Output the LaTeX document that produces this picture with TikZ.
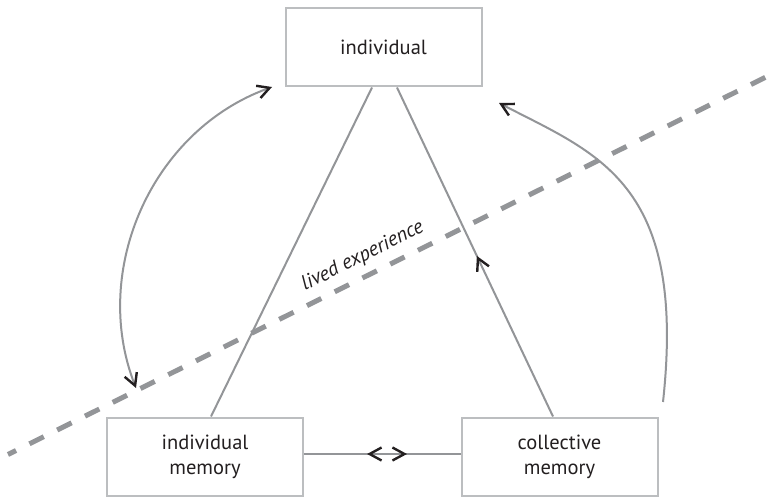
\documentclass[tikz,border=0pt]{standalone}
\usepackage{fontspec}
\setmainfont{PT Sans}
\usetikzlibrary{arrows.meta,decorations.markings}
\definecolor{boxc}{HTML}{BCBEC0}
\definecolor{linec}{HTML}{939598}
\definecolor{dashc}{HTML}{939598}
\definecolor{tipc}{HTML}{231F20}
\begin{document}
\begin{tikzpicture}[x=1pt,y=-1pt,
  >={Straight Barb[length=12pt,width=13pt,line width=2.4pt,color=tipc]},
  box/.style={draw=boxc, line width=2pt, minimum width=196pt, minimum height=78pt,
    inner sep=0pt, align=center, text=tipc, font=\fontsize{20.5}{25}\selectfont},
  conn/.style={draw=linec, line width=2pt},
  dashline/.style={draw=dashc, line width=5pt, dash pattern=on 16pt off 15pt, dash phase=7pt},
  lbl/.style={text=tipc, font=\itshape\fontsize{20.5}{25}\selectfont}
]
\useasboundingbox (0,0) rectangle (769,497);
\fill[white] (0,0) rectangle (769,497);

% dashed boundary
\coordinate (d1) at (8,454.5);
\coordinate (d2) at (772,74);
\draw[dashline] (d1) -- (d2);

% boxes
\node[box] (ind) at (383.5,47.5) {individual};
\node[box] (imem) at (205,456.5) {individual\\memory};
\node[box] (cmem) at (559.5,456.5) {collective\\memory};

% triangle lines
\draw[conn] ([xshift=-11.5pt]ind.south) -- ([xshift=6pt]imem.north);
\draw[conn, postaction={decorate},
  decoration={markings, mark=at position 0.488 with {\arrow{>}}}]
  ([xshift=-6.5pt]cmem.north) -- ([xshift=13.5pt]ind.south);
\draw[conn, postaction={decorate},
  decoration={markings,
    mark=at position 0.403 with {\arrowreversed{>}},
    mark=at position 0.658 with {\arrow{>}}}]
  ([yshift=2.5pt]imem.east) -- ([yshift=2.5pt]cmem.west);

% curved arrows
\coordinate (la) at (136,388);
\coordinate (lb) at (272,87);
\draw[conn, <->] (la) .. controls (90,270) and (152,130) .. (lb);
\coordinate (ra) at (663,402);
\coordinate (rb) at (499,103);
\draw[conn, ->] (ra) .. controls (687,182) and (597,154) .. (rb);

% label
\node[lbl, rotate=26.5, anchor=base] (lived) at (365,261) {lived experience};
\end{tikzpicture}
\end{document}
